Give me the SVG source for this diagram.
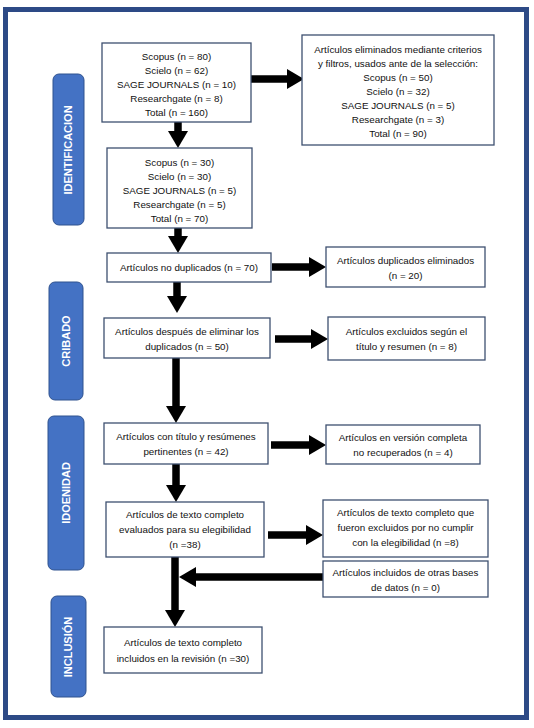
<svg xmlns="http://www.w3.org/2000/svg" width="534" height="728" viewBox="0 0 534 728">
<style>
.box{fill:#fff;stroke:#3E5070;stroke-width:1.3}
.lab{fill:#4472C4;stroke:#2F528F;stroke-width:1}
.t{font-family:"Liberation Sans",Arial,sans-serif;font-size:9.8px;fill:#111;text-anchor:middle}
.lt{font-family:"Liberation Sans",Arial,sans-serif;font-size:11px;font-weight:bold;fill:#fff;text-anchor:middle}
.ar{stroke:#000;stroke-width:7.5;fill:none;marker-end:url(#ah)}
</style>
<defs>
<marker id="ah" markerUnits="userSpaceOnUse" markerWidth="17" markerHeight="20" viewBox="0 -10 17 20" refX="0" refY="0" orient="auto">
<path d="M0,-10 L17,0 L0,10 Z" fill="#000"/>
</marker>
</defs>
<rect x="0" y="0" width="534" height="728" fill="#fff"/>
<rect id="frame" x="5.5" y="9.5" width="521" height="708" fill="#fff" stroke="#2D4A86" stroke-width="5"/>

<g id="lab-identificacion"><rect class="lab" x="53" y="74" width="31" height="151" rx="6"/><text class="lt" transform="translate(72,150) rotate(-90)">IDENTIFICACION</text></g>
<g id="lab-cribado"><rect class="lab" x="49" y="282" width="34" height="118" rx="6"/><text class="lt" transform="translate(70,341) rotate(-90)">CRIBADO</text></g>
<g id="lab-idoenidad"><rect class="lab" x="48" y="416" width="36" height="154" rx="6"/><text class="lt" transform="translate(70,493) rotate(-90)">IDOENIDAD</text></g>
<g id="lab-inclusion"><rect class="lab" x="51" y="596" width="35" height="101" rx="6"/><text class="lt" transform="translate(72,647) rotate(-90)">INCLUSIÓN</text></g>

<g id="connectors">
<line class="ar" x1="251" y1="79" x2="287" y2="79"/>
<line class="ar" x1="178" y1="122" x2="178" y2="131"/>
<line class="ar" x1="178" y1="228" x2="178" y2="236"/>
<line class="ar" x1="272" y1="267" x2="309" y2="267"/>
<line class="ar" x1="177" y1="282" x2="177" y2="296"/>
<line class="ar" x1="275" y1="339" x2="311" y2="339"/>
<line class="ar" x1="176" y1="358" x2="176" y2="406"/>
<line class="ar" x1="271" y1="445" x2="309" y2="445"/>
<line class="ar" x1="176" y1="464" x2="176" y2="485"/>
<line class="ar" x1="268" y1="535" x2="306" y2="535"/>
<line class="ar" x1="175" y1="557" x2="175" y2="610"/>
<line class="ar" x1="323" y1="577" x2="196" y2="577"/>
</g>

<g id="n1"><rect class="box" x="102" y="43" width="149" height="79"/>
<text class="t" x="176.5" y="60">Scopus (n = 80)</text>
<text class="t" x="176.5" y="74">Scielo (n = 62)</text>
<text class="t" x="176.5" y="88">SAGE JOURNALS (n = 10)</text>
<text class="t" x="176.5" y="102">Researchgate (n = 8)</text>
<text class="t" x="176.5" y="116">Total (n = 160)</text></g>

<g id="n1r"><rect class="box" x="302" y="35" width="192" height="110"/>
<text class="t" x="398" y="53">Artículos eliminados mediante criterios</text>
<text class="t" x="398" y="67">y filtros, usados ante de la selección:</text>
<text class="t" x="398" y="81">Scopus (n = 50)</text>
<text class="t" x="398" y="95">Scielo (n = 32)</text>
<text class="t" x="398" y="109">SAGE JOURNALS (n = 5)</text>
<text class="t" x="398" y="123">Researchgate (n = 3)</text>
<text class="t" x="398" y="137">Total (n = 90)</text></g>

<g id="n2"><rect class="box" x="107" y="148" width="145" height="80"/>
<text class="t" x="179.5" y="166">Scopus (n = 30)</text>
<text class="t" x="179.5" y="180">Scielo (n = 30)</text>
<text class="t" x="179.5" y="194">SAGE JOURNALS (n = 5)</text>
<text class="t" x="179.5" y="208">Researchgate (n = 5)</text>
<text class="t" x="179.5" y="222">Total (n = 70)</text></g>

<g id="n3"><rect class="box" x="107" y="253" width="164" height="29"/>
<text class="t" x="189" y="271">Artículos no duplicados (n = 70)</text></g>

<g id="n3r"><rect class="box" x="326" y="247" width="159" height="40"/>
<text class="t" x="405.5" y="264">Artículos duplicados eliminados</text>
<text class="t" x="405.5" y="279">(n = 20)</text></g>

<g id="n4"><rect class="box" x="104" y="318" width="166" height="40"/>
<text class="t" x="187" y="335">Artículos después de eliminar los</text>
<text class="t" x="187" y="350">duplicados (n = 50)</text></g>

<g id="n4r"><rect class="box" x="328" y="317" width="157" height="43"/>
<text class="t" x="406.5" y="335">Artículos excluidos según el</text>
<text class="t" x="406.5" y="350">título y resumen (n = 8)</text></g>

<g id="n5"><rect class="box" x="104" y="423" width="164" height="41"/>
<text class="t" x="186" y="440">Artículos con título y resúmenes</text>
<text class="t" x="186" y="455">pertinentes (n = 42)</text></g>

<g id="n5r"><rect class="box" x="326" y="425" width="154" height="39"/>
<text class="t" x="403" y="441">Artículos en versión completa</text>
<text class="t" x="403" y="456">no recuperados (n = 4)</text></g>

<g id="n6"><rect class="box" x="106" y="502" width="158" height="55"/>
<text class="t" x="185" y="518">Artículos de texto completo</text>
<text class="t" x="185" y="533">evaluados para su elegibilidad</text>
<text class="t" x="185" y="548">(n =38)</text></g>

<g id="n6r"><rect class="box" x="323" y="500" width="165" height="57"/>
<text class="t" x="405.5" y="516">Artículos de texto completo que</text>
<text class="t" x="405.5" y="531">fueron excluidos por no cumplir</text>
<text class="t" x="405.5" y="546">con la elegibilidad (n =8)</text></g>

<g id="n7r"><rect class="box" x="323" y="561" width="165" height="36"/>
<text class="t" x="405.5" y="576">Artículos incluidos de otras bases</text>
<text class="t" x="405.5" y="591">de datos (n = 0)</text></g>

<g id="n7"><rect class="box" x="104" y="627" width="158" height="46"/>
<text class="t" x="183" y="646">Artículos de texto completo</text>
<text class="t" x="183" y="662">incluidos en la revisión (n =30)</text></g>
</svg>
